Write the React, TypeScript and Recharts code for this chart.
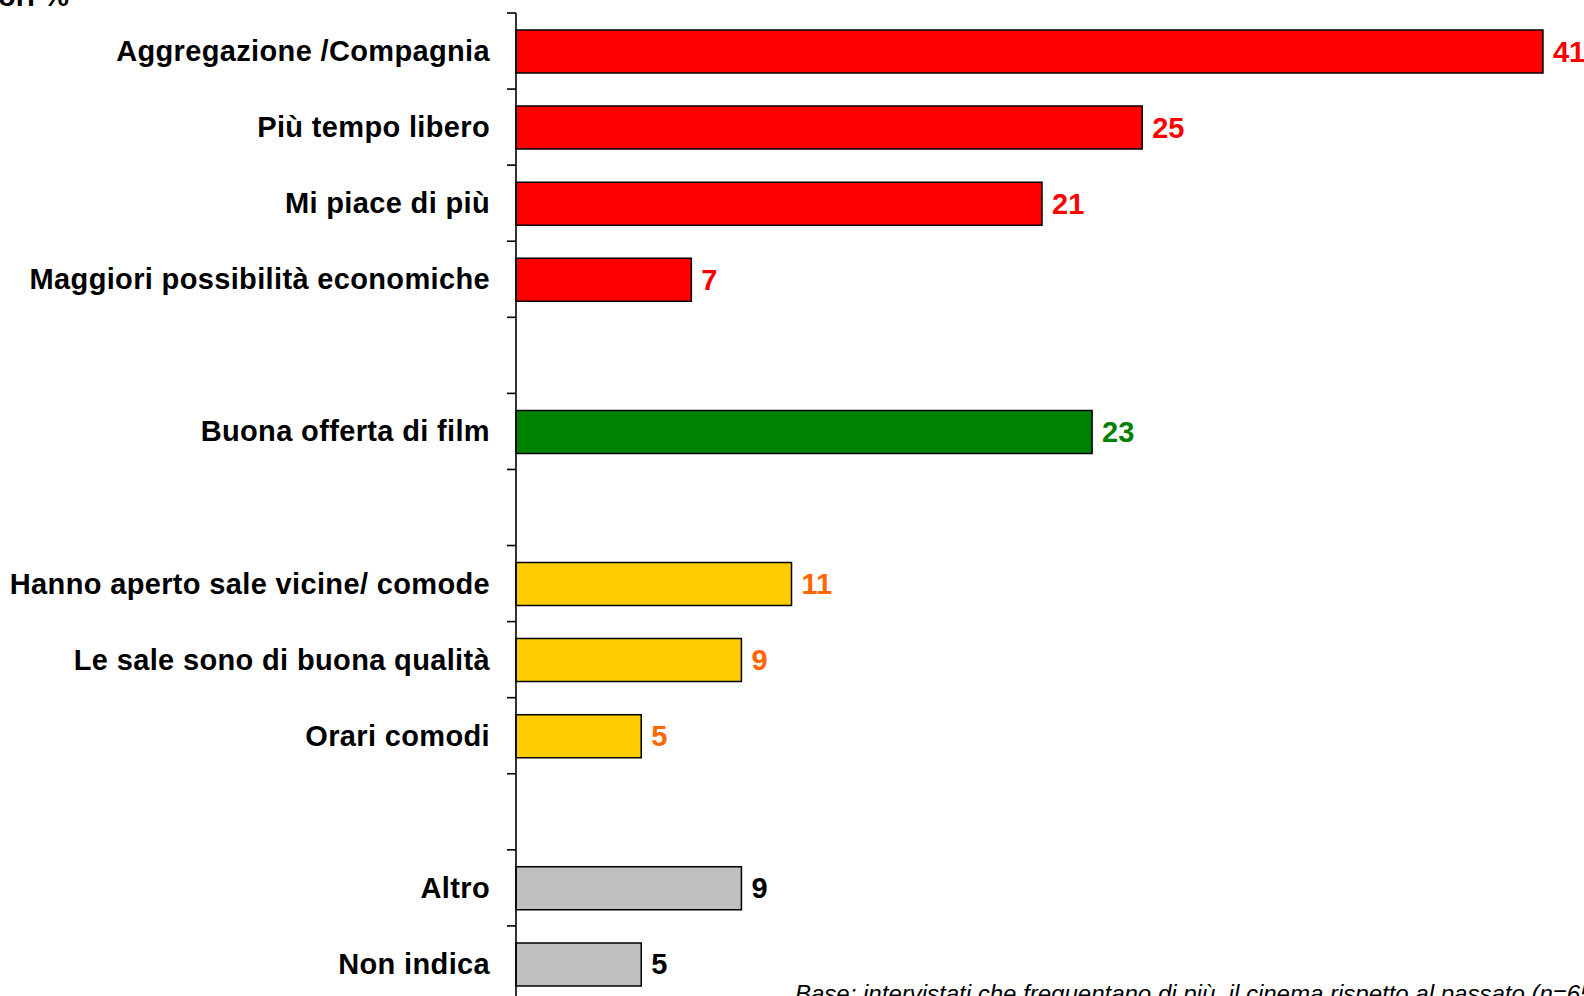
import React from "react";
import { BarChart, Bar, XAxis, YAxis, Cell, LabelList } from "recharts";

const categories = [
  "Aggregazione /Compagnia",
  "Più tempo libero",
  "Mi piace di più",
  "Maggiori possibilità economiche",
  "",
  "Buona offerta di film",
  "",
  "Hanno aperto sale vicine/ comode",
  "Le sale sono di buona qualità",
  "Orari comodi",
  "",
  "Altro",
  "Non indica",
];
const values: (number | null)[] = [41, 25, 21, 7, null, 23, null, 11, 9, 5, null, 9, 5];
const groups: (string | null)[] = [
  "social", "social", "social", "social", null, "film", null,
  "sale", "sale", "sale", null, "other", "other",
];

const barFill: Record<string, string> = {
  social: "#FF0000",
  film: "#008000",
  sale: "#FFCC00",
  other: "#C0C0C0",
};
const labelFill: Record<string, string> = {
  social: "#FF0000",
  film: "#008000",
  sale: "#FF6600",
  other: "#000000",
};

const data = categories.map((c, i) => ({
  key: `r${i}`,
  name: c,
  value: values[i],
  group: groups[i],
}));

const FONT = "'Liberation Sans', Arial, sans-serif";
const CHART_H = 1002;
const TOP = 13;
const TICK_LEN = 9;
const TICK_GAP = 17;

const CatTick = (props: any) => {
  const { x, y, payload, index, visibleTicksCount } = props;
  const idx = data.findIndex((d) => d.key === payload.value);
  const label = idx >= 0 ? data[idx].name : "";
  const half =
    payload && typeof payload.offset === "number" && payload.offset > 0
      ? payload.offset
      : (CHART_H - TOP) / data.length / 2;
  const axisX = x + TICK_GAP + TICK_LEN;
  const count = visibleTicksCount ?? data.length;
  return (
    <g>
      <line x1={axisX - TICK_LEN} x2={axisX} y1={y - half} y2={y - half} stroke="#000" strokeWidth={1.6} />
      {index === count - 1 && (
        <line x1={axisX - TICK_LEN} x2={axisX} y1={y + half} y2={y + half} stroke="#000" strokeWidth={1.6} />
      )}
      <text
        x={x}
        y={y}
        textAnchor="end"
        dominantBaseline="central"
        fontFamily={FONT}
        fontWeight="bold"
        fontSize={29}
        letterSpacing={0.35}
        fill="#000"
      >
        {label}
      </text>
    </g>
  );
};

const ValueLabel = (props: any) => {
  const { x, y, width, height, value } = props;
  const row = data.find((d) => d.key === value);
  if (!row || row.value === null || row.value === undefined) return null;
  const g = row.group || "other";
  return (
    <text
      x={x + width + 10}
      y={y + height / 2}
      dominantBaseline="central"
      fontFamily={FONT}
      fontWeight="bold"
      fontSize={29}
      fill={labelFill[g]}
    >
      {row.value}
    </text>
  );
};

export default function App() {
  return (
    <div
      style={{
        position: "absolute",
        left: 0,
        top: 0,
        width: 1584,
        height: 996,
        overflow: "hidden",
        background: "#fff",
      }}
    >
      <BarChart
        width={1584}
        height={CHART_H}
        data={data}
        layout="vertical"
        margin={{ top: TOP, right: 16, bottom: 0, left: 0 }}
        barCategoryGap={0}
      >
        <XAxis type="number" domain={[0, 42]} hide />
        <YAxis
          type="category"
          dataKey="key"
          width={516}
          axisLine={{ stroke: "#000", strokeWidth: 1.6 }}
          tickLine={false}
          tickSize={TICK_LEN}
          tickMargin={TICK_GAP}
          interval={0}
          tick={<CatTick />}
        />
        <Bar
          dataKey="value"
          barSize={43}
          stroke="#000"
          strokeWidth={1.5}
          isAnimationActive={false}
        >
          {data.map((d, i) => (
            <Cell key={i} fill={d.group ? barFill[d.group] : "none"} />
          ))}
          <LabelList dataKey="key" content={<ValueLabel />} />
        </Bar>
      </BarChart>
      <div
        style={{
          position: "absolute",
          right: 1584 - 69,
          top: -20,
          fontFamily: FONT,
          fontWeight: "bold",
          fontSize: 29,
          whiteSpace: "nowrap",
          lineHeight: "33px",
        }}
      >
        Valori %
      </div>
      <div
        style={{
          position: "absolute",
          left: 795,
          top: 980,
          fontFamily: FONT,
          fontStyle: "italic",
          fontSize: 24,
          whiteSpace: "nowrap",
          lineHeight: "28px",
        }}
      >
        Base: intervistati che frequentano di più&nbsp; il cinema rispetto al passato (n=65)
      </div>
    </div>
  );
}
